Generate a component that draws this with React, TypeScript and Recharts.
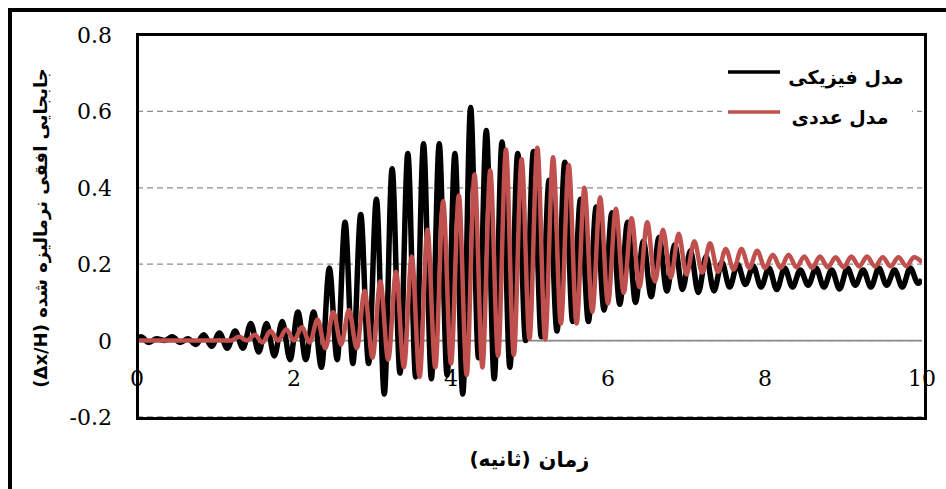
import React from 'react';
import { LineChart, Line, XAxis, YAxis, CartesianGrid, ReferenceLine, Legend } from 'recharts';

// time (s) of each sample of the physical-model record
const blackTime = [
  0, 0.05, 0.15, 0.25, 0.35, 0.45, 0.55, 0.65, 0.75, 0.85, 0.95,
  1.05, 1.15, 1.25, 1.35, 1.45, 1.55, 1.65, 1.75, 1.85, 1.95,
  2.05, 2.15, 2.25, 2.35, 2.45, 2.55, 2.65, 2.75, 2.85, 2.95,
  3.05, 3.15, 3.25, 3.35, 3.45, 3.55, 3.65, 3.75, 3.85, 3.95,
  4.05, 4.15, 4.25, 4.35, 4.45, 4.55, 4.65, 4.75, 4.85, 4.95,
  5.05, 5.15, 5.25, 5.35, 5.45, 5.55, 5.65, 5.75, 5.85, 5.95,
  6.05, 6.15, 6.25, 6.35, 6.45, 6.55, 6.65, 6.75, 6.85, 6.95,
  7.05, 7.15, 7.25, 7.35, 7.45, 7.55, 7.65, 7.75, 7.85, 7.95,
  8.05, 8.15, 8.25, 8.35, 8.45, 8.55, 8.65, 8.75, 8.85, 8.95,
  9.05, 9.15, 9.25, 9.35, 9.45, 9.55, 9.65, 9.75, 9.85, 9.95, 10,
];
// normalised horizontal displacement, physical model
const blackValue = [
  0, 0.01, -0.005, 0.005, 0.0, 0.01, -0.005, 0.005, -0.01, 0.015, -0.015,
  0.02, -0.02, 0.025, -0.02, 0.045, -0.03, 0.045, -0.04, 0.05, -0.05,
  0.075, -0.05, 0.075, -0.07, 0.19, -0.05, 0.31, -0.06, 0.33, -0.06,
  0.37, -0.14, 0.45, -0.085, 0.49, -0.095, 0.515, -0.1, 0.515, -0.09,
  0.49, -0.14, 0.61, -0.045, 0.55, -0.1, 0.52, -0.07, 0.49, 0.0,
  0.495, 0.01, 0.42, 0.025, 0.467, 0.05, 0.37, 0.05, 0.35, 0.08,
  0.335, 0.095, 0.31, 0.1, 0.26, 0.115, 0.27, 0.13, 0.25, 0.134,
  0.235, 0.126, 0.22, 0.13, 0.205, 0.14, 0.2, 0.147, 0.195, 0.14,
  0.19, 0.134, 0.19, 0.14, 0.185, 0.145, 0.19, 0.14, 0.185, 0.135,
  0.19, 0.145, 0.185, 0.14, 0.19, 0.145, 0.185, 0.14, 0.19, 0.15, 0.16,
];

// time (s) of each sample of the numerical-model record
const redTime = [
  0, 0.1, 0.2, 0.3, 0.4, 0.5, 0.6, 0.7, 0.8, 0.9,
  1, 1.1, 1.2, 1.3, 1.4, 1.5, 1.6, 1.7, 1.8, 1.9,
  2, 2.1, 2.2, 2.3, 2.4, 2.5, 2.6, 2.7, 2.8, 2.9,
  3, 3.1, 3.2, 3.3, 3.4, 3.5, 3.6, 3.7, 3.8, 3.9,
  4, 4.1, 4.2, 4.3, 4.4, 4.5, 4.6, 4.7, 4.8, 4.9,
  5, 5.1, 5.2, 5.3, 5.4, 5.5, 5.6, 5.7, 5.8, 5.9,
  6, 6.1, 6.2, 6.3, 6.4, 6.5, 6.6, 6.7, 6.8, 6.9,
  7, 7.1, 7.2, 7.3, 7.4, 7.5, 7.6, 7.7, 7.8, 7.9,
  8, 8.1, 8.2, 8.3, 8.4, 8.5, 8.6, 8.7, 8.8, 8.9,
  9, 9.1, 9.2, 9.3, 9.4, 9.5, 9.6, 9.7, 9.8, 9.9, 10,
];
// normalised horizontal displacement, numerical model
const redValue = [
  0, 0, 0, 0, 0, 0, 0, 0, 0, 0,
  0, 0, 0, 0.01, 0, 0.015, -0.005, 0.025, 0, 0.03,
  0, 0.035, -0.005, 0.055, -0.02, 0.075, -0.01, 0.08, -0.02, 0.13,
  -0.045, 0.155, -0.05, 0.18, -0.07, 0.22, -0.095, 0.29, -0.07, 0.365,
  -0.06, 0.38, -0.09, 0.435, -0.07, 0.445, -0.04, 0.5, -0.037, 0.475,
  0.005, 0.505, 0.003, 0.48, 0.045, 0.46, 0.045, 0.4, 0.075, 0.375,
  0.097, 0.345, 0.125, 0.32, 0.14, 0.31, 0.155, 0.29, 0.165, 0.28,
  0.173, 0.26, 0.178, 0.255, 0.18, 0.24, 0.186, 0.24, 0.19, 0.235,
  0.19, 0.225, 0.19, 0.225, 0.192, 0.22, 0.19, 0.22, 0.192, 0.218,
  0.192, 0.22, 0.194, 0.22, 0.194, 0.218, 0.194, 0.218, 0.195, 0.218, 0.205,
];

const xTicks = [0, 2, 4, 6, 8, 10];
const yTicks = [-0.2, 0, 0.2, 0.4, 0.6, 0.8];
const seriesNames = ['مدل فیزیکی', 'مدل عددی'];
const seriesColors = ['#000000', '#C0504D'];
const xTitleMain = 'زمان';
const xTitleUnit = '(ثانیه)';
const yTitle = 'جابجایی افقی نرمالیزه شده (Δx/H)';

const blackData = blackTime.map((t, i) => ({ t, v: blackValue[i] }));
const redData = redTime.map((t, i) => ({ t, v: redValue[i] }));

const SERIF = 'DejaVu Serif';
const PERSIAN = 'DejaVu Sans, sans-serif';

const XTick = (props: any) => {
  const { x, y, payload } = props;
  return (
    <text x={x} y={y - 31} textAnchor="middle" fontFamily={SERIF} fontSize={22} fill="#000">
      {String(payload.value)}
    </text>
  );
};

const YTick = (props: any) => {
  const { x, y, payload } = props;
  return (
    <text x={x} y={y + 8} textAnchor="end" fontFamily={SERIF} fontSize={22} fill="#000">
      {String(payload.value)}
    </text>
  );
};

const YTitle = () => (
  <text
    transform="translate(40,228) rotate(-90)"
    x={0}
    y={0}
    dominantBaseline="central"
    textAnchor="middle"
    direction="rtl"
    style={{ fontFamily: PERSIAN, fontWeight: 'bold', fontSize: 18 }}
    fill="#000"
  >
    {yTitle}
  </text>
);

const XTitle = () => (
  <g>
    <text x={564} y={467} textAnchor="middle" style={{ fontFamily: PERSIAN, fontWeight: 'bold', fontSize: 21 }} fill="#000">
      {xTitleMain}
    </text>
    <text x={500} y={466} textAnchor="middle" style={{ fontFamily: PERSIAN, fontWeight: 'bold', fontSize: 20 }} fill="#000">
      {xTitleUnit}
    </text>
  </g>
);

const LegendContent = () => (
  <svg width={190} height={78} style={{ display: 'block' }}>
    <rect x={0} y={0} width={190} height={78} fill="#fff" />
    <line x1={6} x2={58} y1={17} y2={17} stroke={seriesColors[0]} strokeWidth={3.5} />
    <text x={124} y={29} textAnchor="middle" style={{ fontFamily: PERSIAN, fontWeight: 'bold', fontSize: 19 }} fill="#000">
      {seriesNames[0]}
    </text>
    <line x1={6} x2={58} y1={57} y2={57} stroke={seriesColors[1]} strokeWidth={3.5} />
    <text x={118} y={69} textAnchor="middle" style={{ fontFamily: PERSIAN, fontWeight: 'bold', fontSize: 19 }} fill="#000">
      {seriesNames[1]}
    </text>
  </svg>
);

export default function App() {
  return (
    <div style={{ position: 'absolute', left: 0, top: 0, width: 946, height: 489, overflow: 'hidden', background: '#fff' }}>
      <div style={{ position: 'absolute', left: 8, top: 8, width: 980, height: 540, border: '4px solid #000', boxSizing: 'border-box' }} />
      <div style={{ position: 'absolute', left: 0, top: 0 }}>
        <LineChart width={946} height={489} margin={{ top: 35, right: 24, bottom: 42, left: 77 }}>
          <CartesianGrid vertical={false} strokeDasharray="6 4" stroke="#8c8c8c" strokeWidth={1.3} />
          <ReferenceLine y={0} stroke="#8c8c8c" strokeWidth={1.8} />
          <XAxis
            dataKey="t"
            type="number"
            domain={[0, 10]}
            ticks={xTicks}
            interval={0}
            axisLine={false}
            tickLine={false}
            tickSize={0}
            tickMargin={0}
            height={30}
            tick={<XTick />}
            label={<XTitle />}
            allowDataOverflow
          />
          <YAxis
            type="number"
            domain={[-0.2, 0.8]}
            ticks={yTicks}
            interval={0}
            axisLine={false}
            tickLine={false}
            tickSize={0}
            tickMargin={25}
            width={60}
            tick={<YTick />}
            label={<YTitle />}
            allowDataOverflow
          />
          <Legend
            layout="horizontal"
            verticalAlign="middle"
            align="center"
            content={<LegendContent />}
            wrapperStyle={{ left: 722, top: 55, width: 190, height: 78 }}
          />
          <Line
            data={blackData}
            dataKey="v"
            name={seriesNames[0]}
            type="monotone"
            stroke={seriesColors[0]}
            strokeWidth={5.5}
            dot={false}
            activeDot={false}
            isAnimationActive={false}
          />
          <Line
            data={redData}
            dataKey="v"
            name={seriesNames[1]}
            type="monotone"
            stroke={seriesColors[1]}
            strokeWidth={4.5}
            dot={false}
            activeDot={false}
            isAnimationActive={false}
          />
        </LineChart>
      </div>
      <div style={{ position: 'absolute', left: 136, top: 33, width: 791, height: 387, border: '3px solid #000', boxSizing: 'border-box', pointerEvents: 'none' }} />
    </div>
  );
}
